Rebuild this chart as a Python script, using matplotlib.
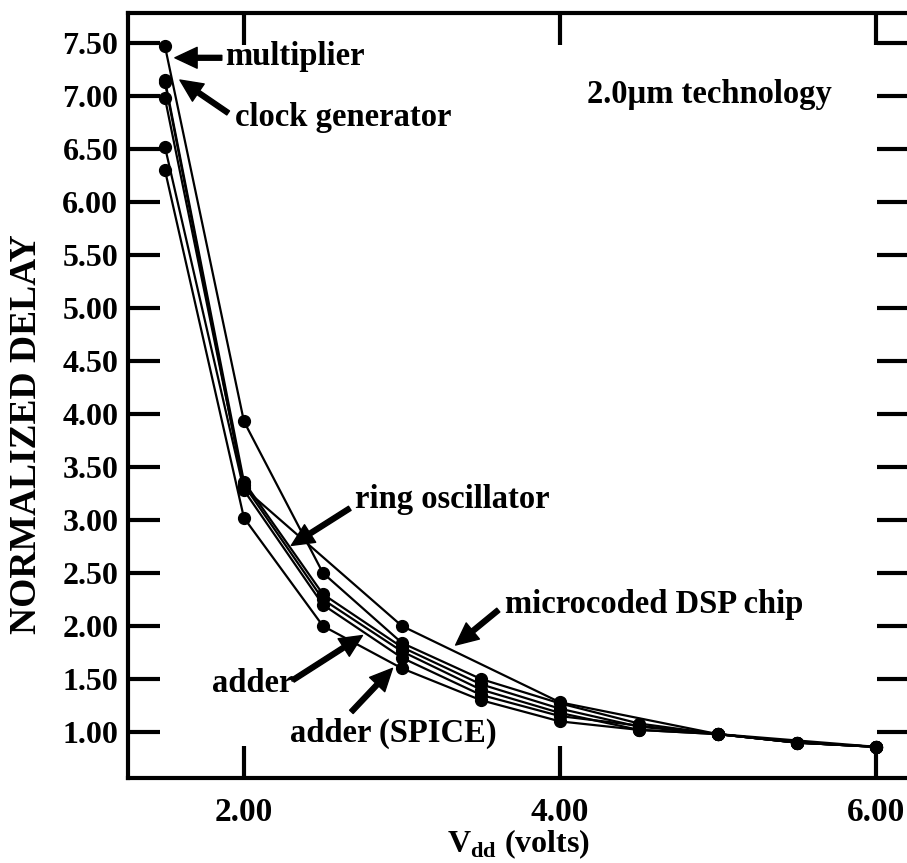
import numpy as np
import matplotlib
matplotlib.use("Agg")
import matplotlib.pyplot as plt

# supply voltages (V)
vdd = [1.5, 2.0, 2.5, 3.0, 3.5, 4.0, 4.5, 5.0, 5.5, 6.0]
vdd_ring = [1.5, 2.0, 3.0, 4.0, 5.0, 6.0]

# normalized delay
multiplier = [7.47, 3.93, 2.50, 1.84, 1.50, 1.27, 1.08, 0.98, 0.90, 0.86]
clock_gen = [7.15, 3.36, 2.30, 1.80, 1.45, 1.22, 1.05, 0.98, 0.90, 0.86]
ring_osc = [7.13, 3.30, 2.00, 1.28, 0.98, 0.86]
dsp_chip = [6.98, 3.33, 2.25, 1.76, 1.40, 1.18, 1.02, 0.98, 0.90, 0.86]
adder = [6.30, 3.02, 2.00, 1.60, 1.30, 1.10, 1.02, 0.98, 0.90, 0.86]
adder_spice = [6.52, 3.28, 2.20, 1.70, 1.35, 1.15, 1.06, 0.98, 0.90, 0.86]

yticks = np.arange(1.0, 7.51, 0.5)
xticks = [2.0, 4.0, 6.0]

plt.rcParams['font.family'] = ['Liberation Serif', 'DejaVu Serif']
plt.rcParams['font.weight'] = 'bold'
plt.rcParams['mathtext.fontset'] = 'custom'
plt.rcParams['mathtext.bf'] = 'Liberation Serif:bold'
plt.rcParams['mathtext.rm'] = 'Liberation Serif'

fig = plt.figure(figsize=(9.07, 8.63), dpi=100)
ax = fig.add_axes([0.1411, 0.0985, 0.861, 0.8865])

for xs, ys in [(vdd, multiplier), (vdd, clock_gen), (vdd_ring, ring_osc),
               (vdd, dsp_chip), (vdd, adder), (vdd, adder_spice)]:
    ax.plot(xs, ys, color='black', lw=1.6, marker='o', ms=8.5)

ax.set_xlim(1.266, 6.209)
ax.set_ylim(0.566, 7.783)

for s in ax.spines.values():
    s.set_linewidth(3)

ax.set_yticks(yticks)
ax.set_yticklabels([f"{v:.2f}" for v in yticks])
ax.set_xticks(xticks)
ax.set_xticklabels([f"{v:.2f}" for v in xticks])
ax.tick_params(axis='both', direction='in', length=23, width=3,
               labelsize=23, top=True, right=True)
ax.tick_params(axis='y', pad=7)
ax.tick_params(axis='x', pad=14, labelsize=24)

ax.set_xlabel(r"V$_{\mathbf{dd}}$ (volts)", fontsize=23, fontweight='bold', labelpad=-1)
ax.set_ylabel("NORMALIZED DELAY", fontsize=27, fontweight='bold')
ax.yaxis.set_label_coords(-0.108, 0.45)

ax.text(4.17, 7.01, "2.0\u00b5m technology", fontsize=23.5, fontweight='bold', va='center')

arrow = dict(facecolor='black', edgecolor='black', width=3.5, headwidth=15,
             headlength=16, shrink=0)
notes = [
    ("multiplier", (1.88, 7.37), (1.563, 7.36), (1.86, 7.36)),
    ("clock generator", (1.943, 6.80), (1.595, 7.15), (1.90, 6.84)),
    ("ring oscillator", (2.70, 3.19), (2.30, 2.76), (2.67, 3.11)),
    ("microcoded DSP chip", (3.65, 2.20), (3.34, 1.82), (3.61, 2.15)),
    ("adder", (1.80, 1.46), (2.75, 1.91), (2.31, 1.49)),
    ("adder (SPICE)", (2.29, 0.99), (2.94, 1.60), (2.68, 1.19)),
]
for label, txy, tip, tail in notes:
    ax.text(txy[0], txy[1], label, fontsize=23.5, fontweight='bold', va='center')
    ax.annotate("", xy=tip, xytext=tail, arrowprops=arrow)

fig.savefig("out.png", dpi=100)
